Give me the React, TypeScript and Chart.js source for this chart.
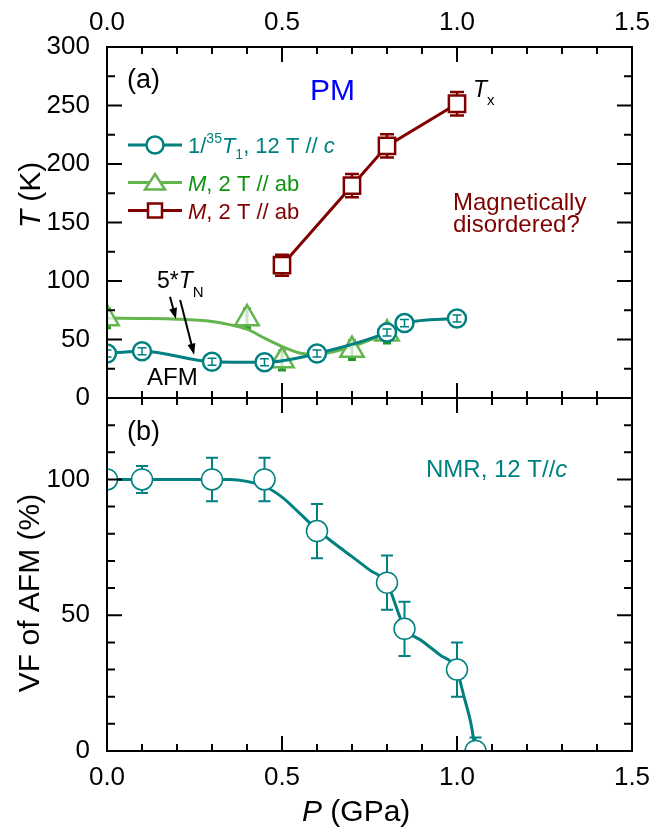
import React, { useEffect, useRef } from "react";
import { Chart, registerables } from "chart.js";

Chart.register(...registerables);

const FONT = "'Liberation Sans', Arial, Helvetica, sans-serif";
const TEAL = "#008080";
const GREEN = "#64b54e";
const GREEN_DARK = "#23962a";
const GREEN_TEXT = "#0f930f";
const RED = "#800000";
const BLUE = "#0000ff";

// Panel (a): ordering temperature from 1/35T1 (NMR, 12 T // c)
const P_T1 = [0, 0.1, 0.3, 0.45, 0.6, 0.8, 0.85, 1.0];
const TN_T1 = [38, 40, 31, 30.5, 38, 56, 64, 68];
const TN_T1_ERR = [3, 3, 3, 3, 3, 3, 3, 3];

// Panel (a): 5*T_N from magnetization (2 T // ab)
const P_M = [0, 0.4, 0.5, 0.7, 0.8];
const TN_M = [68, 68, 32, 41, 55];
const TN_M_ERR = [8, 8, 8, 8, 8];

// Panel (a): guide curve for the magnetization T_N
const P_M_GUIDE = [0, 0.1, 0.2, 0.3, 0.35, 0.4, 0.45, 0.5, 0.55, 0.6, 0.65, 0.7, 0.8];
const TN_M_GUIDE = [68.2, 68, 67.4, 65.4, 62.7, 58.8, 51.2, 44, 38.5, 37, 39.8, 44, 55.4];

// Panel (a): T_x from magnetization (2 T // ab)
const P_TX = [0.5, 0.7, 0.8, 1.0];
const TX = [113.5, 181.5, 215.5, 251.5];
const TX_ERR = [9, 10, 10, 10];

// Panel (b): AFM volume fraction from NMR
const P_VF = [0, 0.1, 0.3, 0.45, 0.6, 0.8, 0.85, 1.0, 1.053];
const VF = [100, 100, 100, 100, 81, 62, 45, 30, 0];
const VF_ERR = [3, 5, 8, 8, 10, 10, 10, 10, 5];

// Panel (b): guide curve
const P_VF_GUIDE = [0, 0.1, 0.2, 0.3, 0.35, 0.4, 0.45, 0.5, 0.55, 0.6, 0.65, 0.7, 0.75, 0.8, 0.85, 0.9, 0.95, 1.0, 1.02, 1.04, 1.053];
const VF_GUIDE = [100, 100, 100, 100, 100, 99.3, 97.5, 93.5, 87.6, 81.5, 76.4, 71.6, 66.7, 61.7, 45.5, 40.5, 35.5, 29.5, 20, 10, 0];

// Axis ranges and ticks
const P_RANGE = [0, 1.5];
const P_MAJOR = 0.5;
const P_MINOR = 0.1;
const T_RANGE = [0, 300];
const T_MAJOR = 50;
const T_MINOR = 25;
const VF_RANGE = [0, 130];
const VF_MAJOR = 50;
const VF_MINOR = 10;

const pts = (xs: number[], ys: number[]) => xs.map((x, i) => ({ x, y: ys[i] }));

type Run = { t: string; italic?: boolean; size?: number; dy?: number };

function runsWidth(ctx: CanvasRenderingContext2D, runs: Run[], base: number) {
  let w = 0;
  for (const r of runs) {
    ctx.font = `${r.italic ? "italic " : ""}${r.size ?? base}px ${FONT}`;
    w += ctx.measureText(r.t).width;
  }
  return w;
}

function drawRuns(ctx: CanvasRenderingContext2D, runs: Run[], x: number, y: number, base: number, color: string) {
  let cx = x;
  ctx.fillStyle = color;
  ctx.textAlign = "left";
  ctx.textBaseline = "alphabetic";
  for (const r of runs) {
    ctx.font = `${r.italic ? "italic " : ""}${r.size ?? base}px ${FONT}`;
    ctx.fillText(r.t, cx, y + (r.dy ?? 0));
    cx += ctx.measureText(r.t).width;
  }
}

function drawVertical(ctx: CanvasRenderingContext2D, runs: Run[], xBase: number, yCenter: number, base: number) {
  ctx.save();
  ctx.translate(xBase, yCenter);
  ctx.rotate(-Math.PI / 2);
  const w = runsWidth(ctx, runs, base);
  drawRuns(ctx, runs, -w / 2, 0, base, "#000");
  ctx.restore();
}

function arrow(ctx: CanvasRenderingContext2D, x1: number, y1: number, x2: number, y2: number) {
  const ang = Math.atan2(y2 - y1, x2 - x1);
  const L = 11;
  const W = 4;
  const c = Math.cos(ang);
  const s = Math.sin(ang);
  ctx.beginPath();
  ctx.moveTo(x1, y1);
  ctx.lineTo(x2 - L * 0.8 * c, y2 - L * 0.8 * s);
  ctx.stroke();
  ctx.beginPath();
  ctx.moveTo(x2, y2);
  ctx.lineTo(x2 - L * c + W * s, y2 - L * s - W * c);
  ctx.lineTo(x2 - L * c - W * s, y2 - L * s + W * c);
  ctx.closePath();
  ctx.fill();
}

type ErrSpec = { ds: number; errs: number[]; color: string; width: number; cap: number; front: boolean };

function drawErrors(chart: any, spec: ErrSpec) {
  const meta = chart.getDatasetMeta(spec.ds);
  const ys = chart.scales.y;
  const data = chart.data.datasets[spec.ds].data as { x: number; y: number }[];
  const ctx: CanvasRenderingContext2D = chart.ctx;
  const a = chart.chartArea;
  ctx.save();
  ctx.beginPath();
  ctx.rect(a.left, a.top, a.right - a.left, a.bottom - a.top);
  ctx.clip();
  ctx.strokeStyle = spec.color;
  ctx.lineWidth = spec.width;
  meta.data.forEach((el: any, i: number) => {
    const v = data[i].y;
    const e = spec.errs[i];
    const x = el.x;
    const y1 = ys.getPixelForValue(v + e);
    const y2 = ys.getPixelForValue(v - e);
    ctx.beginPath();
    ctx.moveTo(x, y1);
    ctx.lineTo(x, y2);
    ctx.moveTo(x - spec.cap, y1);
    ctx.lineTo(x + spec.cap, y1);
    ctx.moveTo(x - spec.cap, y2);
    ctx.lineTo(x + spec.cap, y2);
    ctx.stroke();
  });
  ctx.restore();
}

function errorPlugin(id: string, specs: ErrSpec[]) {
  return {
    id,
    beforeDatasetsDraw(chart: any) {
      specs.filter((s) => !s.front).forEach((s) => drawErrors(chart, s));
    },
    afterDatasetsDraw(chart: any) {
      specs.filter((s) => s.front).forEach((s) => drawErrors(chart, s));
    },
  };
}

// Frame with inward major/minor ticks on all four sides
function framePlugin(id: string, yMajor: number, yMinor: number, yMax: number) {
  return {
    id,
    afterDraw(chart: any) {
      const { ctx, chartArea: a, scales } = chart;
      const xs = scales.x;
      const ys = scales.y;
      ctx.save();
      ctx.strokeStyle = "#000";
      ctx.lineWidth = 2;
      ctx.strokeRect(a.left, a.top, a.right - a.left, a.bottom - a.top);
      ctx.beginPath();
      const nx = Math.round((P_RANGE[1] - P_RANGE[0]) / P_MINOR);
      for (let i = 0; i <= nx; i++) {
        const v = P_RANGE[0] + i * P_MINOR;
        const major = i % Math.round(P_MAJOR / P_MINOR) === 0;
        const len = major ? 15 : 7;
        const px = xs.getPixelForValue(v);
        ctx.moveTo(px, a.top);
        ctx.lineTo(px, a.top + len);
        ctx.moveTo(px, a.bottom);
        ctx.lineTo(px, a.bottom - len);
      }
      const ny = Math.round(yMax / yMinor);
      for (let i = 0; i <= ny; i++) {
        const v = i * yMinor;
        const major = Math.abs(v / yMajor - Math.round(v / yMajor)) < 1e-6;
        const len = major ? 15 : 8;
        const py = ys.getPixelForValue(v);
        ctx.moveTo(a.left, py);
        ctx.lineTo(a.left + len, py);
        ctx.moveTo(a.right, py);
        ctx.lineTo(a.right - len, py);
      }
      ctx.stroke();
      ctx.restore();
    },
  };
}

const tickFont = { family: FONT, size: 26 };

function fixX(height: number) {
  return (s: any) => {
    s.height = height;
    s.paddingLeft = 0;
    s.paddingRight = 0;
  };
}

function fixY(s: any) {
  s.width = 107;
  s.paddingTop = 0;
  s.paddingBottom = 0;
}

function makeChartA(canvas: HTMLCanvasElement) {
  const annotations = {
    id: "annotA",
    afterDraw(chart: any) {
      const ctx: CanvasRenderingContext2D = chart.ctx;
      const xs = chart.scales.x;
      const ys = chart.scales.y;
      ctx.save();
      drawRuns(ctx, [{ t: "(a)" }], 127, 88, 27, "#000");
      drawRuns(ctx, [{ t: "PM" }], 310, 100, 30, BLUE);
      drawRuns(ctx, [{ t: "T", italic: true }, { t: "x", size: 15, dy: 8 }], 473, 97, 23, "#000");
      drawRuns(ctx, [{ t: "Magnetically" }], 453, 209.5, 24, RED);
      drawRuns(ctx, [{ t: "disordered?" }], 453, 232, 24, RED);
      drawRuns(ctx, [{ t: "5*" }, { t: "T", italic: true }, { t: "N", size: 15, dy: 9 }], 157, 288, 23, "#000");
      drawRuns(ctx, [{ t: "AFM" }], 147, 385, 24, "#000");

      ctx.strokeStyle = "#000";
      ctx.fillStyle = "#000";
      ctx.lineWidth = 2;
      arrow(ctx, xs.getPixelForValue(0.18), ys.getPixelForValue(86.6), xs.getPixelForValue(0.197), ys.getPixelForValue(67.5));
      arrow(ctx, xs.getPixelForValue(0.209), ys.getPixelForValue(83.8), xs.getPixelForValue(0.249), ys.getPixelForValue(37));

      // legend
      const lx0 = 128;
      const lx1 = 182;
      const mx = 155;
      const rows = [
        { y: 145, color: TEAL },
        { y: 182.5, color: GREEN },
        { y: 210.5, color: RED },
      ];
      rows.forEach((r) => {
        ctx.strokeStyle = r.color;
        ctx.lineWidth = 3;
        ctx.beginPath();
        ctx.moveTo(lx0, r.y);
        ctx.lineTo(lx1, r.y);
        ctx.stroke();
      });
      ctx.lineWidth = 2.5;
      ctx.fillStyle = "#fff";
      ctx.strokeStyle = TEAL;
      ctx.beginPath();
      ctx.arc(mx, rows[0].y, 8.5, 0, Math.PI * 2);
      ctx.fill();
      ctx.stroke();
      ctx.strokeStyle = GREEN;
      ctx.beginPath();
      ctx.moveTo(mx, rows[1].y - 8.5);
      ctx.lineTo(mx + 10, rows[1].y + 7);
      ctx.lineTo(mx - 10, rows[1].y + 7);
      ctx.closePath();
      ctx.fill();
      ctx.stroke();
      ctx.strokeStyle = RED;
      ctx.beginPath();
      ctx.rect(mx - 7, rows[2].y - 7, 14, 14);
      ctx.fill();
      ctx.stroke();

      drawRuns(
        ctx,
        [
          { t: "1/" },
          { t: "35", size: 14, dy: -10 },
          { t: "T", italic: true },
          { t: "1", size: 14, dy: 6 },
          { t: ", 12 T // " },
          { t: "c", italic: true },
        ],
        188,
        153,
        22,
        TEAL
      );
      drawRuns(ctx, [{ t: "M", italic: true }, { t: ", 2 T // ab" }], 188, 190.5, 22, GREEN_TEXT);
      drawRuns(ctx, [{ t: "M", italic: true }, { t: ", 2 T // ab" }], 188, 218.5, 22, RED);

      drawVertical(ctx, [{ t: "T", italic: true }, { t: " (K)" }], 40, 195, 30);
      ctx.restore();
    },
  };

  return new Chart(canvas, {
    type: "line",
    data: {
      datasets: [
        {
          label: "Tx",
          data: pts(P_TX, TX),
          borderColor: RED,
          borderWidth: 3,
          tension: 0,
          pointStyle: "rect",
          pointRadius: 11.5,
          pointBorderWidth: 2.5,
          pointBorderColor: RED,
          pointBackgroundColor: "#fff",
          clip: 0,
        } as any,
        {
          label: "1/T1",
          data: pts(P_T1, TN_T1),
          borderColor: TEAL,
          borderWidth: 3,
          cubicInterpolationMode: "monotone",
          pointStyle: "circle",
          pointRadius: 9,
          pointBorderWidth: 2.5,
          pointBorderColor: TEAL,
          pointBackgroundColor: "#fff",
          clip: 0,
        } as any,
        {
          label: "M TN",
          data: pts(P_M, TN_M),
          showLine: false,
          pointStyle: "triangle",
          pointRadius: 13.5,
          pointBorderWidth: 2.5,
          pointBorderColor: GREEN,
          pointBackgroundColor: "rgba(255,255,255,0.75)",
          clip: 0,
        } as any,
        {
          label: "M TN guide",
          data: pts(P_M_GUIDE, TN_M_GUIDE),
          borderColor: GREEN,
          borderWidth: 3,
          cubicInterpolationMode: "monotone",
          pointRadius: 0,
          clip: 0,
        } as any,
      ],
    },
    options: {
      animation: false,
      responsive: false,
      events: [],
      layout: { padding: { left: 0, right: 19, top: 0, bottom: 429 } },
      plugins: { legend: { display: false }, tooltip: { enabled: false } },
      scales: {
        x: {
          type: "linear",
          position: "top",
          min: P_RANGE[0],
          max: P_RANGE[1],
          afterFit: fixX(47),
          ticks: {
            stepSize: P_MAJOR,
            autoSkip: false,
            maxRotation: 0,
            padding: 9,
            color: "#000",
            font: tickFont,
            callback: (v: any) => Number(v).toFixed(1),
          },
          grid: { display: false, drawTicks: false },
          border: { display: false },
        },
        y: {
          type: "linear",
          min: T_RANGE[0],
          max: T_RANGE[1],
          afterFit: fixY,
          ticks: { stepSize: T_MAJOR, padding: 17, color: "#000", font: tickFont },
          grid: { display: false, drawTicks: false },
          border: { display: false },
        },
      },
    } as any,
    plugins: [
      errorPlugin("errA", [
        { ds: 0, errs: TX_ERR, color: RED, width: 2.5, cap: 7, front: false },
        { ds: 2, errs: TN_M_ERR, color: GREEN_DARK, width: 3, cap: 4, front: false },
        { ds: 1, errs: TN_T1_ERR, color: TEAL, width: 1.5, cap: 4.5, front: true },
      ]),
      framePlugin("frameA", T_MAJOR, T_MINOR, T_RANGE[1]),
      annotations,
    ],
  });
}

function makeChartB(canvas: HTMLCanvasElement) {
  const annotations = {
    id: "annotB",
    afterDraw(chart: any) {
      const ctx: CanvasRenderingContext2D = chart.ctx;
      ctx.save();
      drawRuns(ctx, [{ t: "(b)" }], 127, 440, 27, "#000");
      drawRuns(ctx, [{ t: "NMR, 12 T//" }, { t: "c", italic: true }], 426, 477, 24, TEAL);
      drawVertical(ctx, [{ t: "VF of AFM (%)" }], 38.5, 593, 30);
      drawRuns(ctx, [{ t: "P", italic: true }, { t: " (GPa)" }], 302, 821, 30, "#000");
      ctx.restore();
    },
  };

  return new Chart(canvas, {
    type: "line",
    data: {
      datasets: [
        {
          label: "VF",
          data: pts(P_VF, VF),
          showLine: false,
          pointStyle: "circle",
          pointRadius: 10.5,
          pointBorderWidth: 1.5,
          pointBorderColor: TEAL,
          pointBackgroundColor: "#fff",
          clip: 0,
        } as any,
        {
          label: "VF guide",
          data: pts(P_VF_GUIDE, VF_GUIDE),
          borderColor: TEAL,
          borderWidth: 3,
          cubicInterpolationMode: "monotone",
          pointRadius: 0,
          clip: 0,
        } as any,
      ],
    },
    options: {
      animation: false,
      responsive: false,
      events: [],
      layout: { padding: { left: 0, right: 19, top: 398, bottom: 0 } },
      plugins: { legend: { display: false }, tooltip: { enabled: false } },
      scales: {
        x: {
          type: "linear",
          position: "bottom",
          min: P_RANGE[0],
          max: P_RANGE[1],
          afterFit: fixX(76),
          ticks: {
            stepSize: P_MAJOR,
            autoSkip: false,
            maxRotation: 0,
            padding: 11,
            color: "#000",
            font: tickFont,
            callback: (v: any) => Number(v).toFixed(1),
          },
          grid: { display: false, drawTicks: false },
          border: { display: false },
        },
        y: {
          type: "linear",
          min: VF_RANGE[0],
          max: VF_RANGE[1],
          afterFit: fixY,
          ticks: {
            stepSize: VF_MAJOR,
            padding: 17,
            color: "#000",
            font: tickFont,
            callback: (v: any) => (Number(v) % VF_MAJOR === 0 ? String(v) : ""),
          },
          grid: { display: false, drawTicks: false },
          border: { display: false },
        },
      },
    } as any,
    plugins: [
      errorPlugin("errB", [{ ds: 0, errs: VF_ERR, color: TEAL, width: 2, cap: 6, front: false }]),
      framePlugin("frameB", VF_MAJOR, VF_MINOR, VF_RANGE[1]),
      annotations,
    ],
  });
}

export default function App() {
  const refA = useRef<HTMLCanvasElement>(null);
  const refB = useRef<HTMLCanvasElement>(null);

  useEffect(() => {
    const a = makeChartA(refA.current!);
    const b = makeChartB(refB.current!);
    return () => {
      a.destroy();
      b.destroy();
    };
  }, []);

  const canvasStyle: React.CSSProperties = { position: "absolute", left: 0, top: 0, width: 651, height: 827 };
  return (
    <div style={{ position: "absolute", left: 0, top: 0, width: 651, height: 827, background: "#fff" }}>
      <canvas ref={refA} width={651} height={827} style={canvasStyle} />
      <canvas ref={refB} width={651} height={827} style={canvasStyle} />
    </div>
  );
}
